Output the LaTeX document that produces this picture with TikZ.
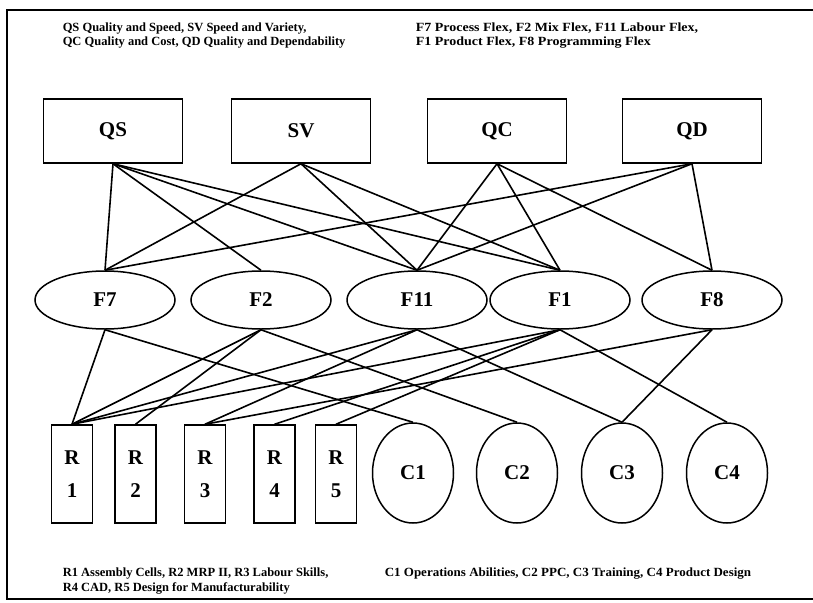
\documentclass[tikz,border=0pt]{standalone}
\usepackage{fontspec}
\setmainfont{Liberation Serif}
\usetikzlibrary{shapes.geometric}
\begin{document}
\begin{tikzpicture}[x=1pt,y=-1pt,
  line width=1.5pt,
  goal/.style={draw, rectangle, minimum width=139pt, minimum height=64pt,
    inner sep=0pt, font=\fontsize{21}{21}\selectfont\bfseries},
  flex/.style={draw, ellipse, minimum width=140pt, minimum height=58pt,
    inner sep=0pt, font=\fontsize{21}{21}\selectfont\bfseries},
  res/.style={draw, rectangle, minimum width=41pt, minimum height=98pt,
    inner sep=0pt, align=center, font=\fontsize{21}{33}\selectfont\bfseries},
  capab/.style={draw, ellipse, minimum width=81pt, minimum height=100pt,
    inner sep=0pt, font=\fontsize{21}{21}\selectfont\bfseries},
  note/.style={anchor=north west, align=left, inner sep=0pt,
    font=\fontsize{12.5}{14.5}\selectfont\bfseries},
  link/.style={line width=1.6pt}
]
\useasboundingbox (0,0) rectangle (813,602);

% outer frame (open on the right)
\draw[line width=1.8pt] (813,10) -- (7,10) -- (7,599) -- (813,599);

% legends
\node[note] (legTL) at (62,22) {QS Quality and Speed, SV Speed and Variety,\\QC Quality and Cost, QD Quality and Dependability};
\node[note, font=\fontsize{12.5}{14.5}\selectfont\bfseries\addfontfeature{FakeStretch=1.12}] (legTR) at (415,22) {F7 Process Flex, F2 Mix Flex, F11 Labour Flex,\\F1 Product Flex, F8 Programming Flex};
\node[note, font=\fontsize{12.5}{15}\selectfont\bfseries] (legBL) at (62,567) {R1 Assembly Cells, R2 MRP II, R3 Labour Skills,\\R4 CAD, R5 Design for Manufacturability};
\node[note, font=\fontsize{12.5}{15}\selectfont\bfseries\addfontfeature{FakeStretch=1.04}] (legBR) at (384,567) {C1 Operations Abilities, C2 PPC, C3 Training, C4 Product Design};

% competitive priorities
\node[goal] (QS) at (113,131) {QS};
\node[goal] (SV) at (301,131) {SV};
\node[goal] (QC) at (497,131) {QC};
\node[goal] (QD) at (692,131) {QD};

% flexibility types
\node[flex] (F7)  at (105,300) {F7};
\node[flex] (F2)  at (261,300) {F2};
\node[flex] (F11) at (417,300) {F11};
\node[flex] (F1)  at (560,300) {F1};
\node[flex] (F8)  at (712,300) {F8};

% resources
\node[res] (R1) at (72,474) {R\\1};
\node[res] (R2) at (135.5,474) {R\\2};
\node[res] (R3) at (205,474) {R\\3};
\node[res] (R4) at (274.5,474) {R\\4};
\node[res] (R5) at (336,474) {R\\5};

% capabilities
\node[capab] (C1) at (413,473) {C1};
\node[capab] (C2) at (517,473) {C2};
\node[capab] (C3) at (622,473) {C3};
\node[capab] (C4) at (727,473) {C4};

% priorities to flexibilities
\foreach \a/\b in {QS/F7, QS/F2, QS/F11, QS/F1,
                   SV/F7, SV/F11, SV/F1,
                   QC/F11, QC/F1, QC/F8,
                   QD/F7, QD/F11, QD/F8}
  \draw[link] (\a.south) -- (\b.north);

% flexibilities to resources and capabilities
\foreach \a/\b in {F7/R1, F7/C1,
                   F2/R1, F2/R2, F2/C2,
                   F11/R1, F11/R3, F11/C3,
                   F1/R1, F1/R4, F1/R5, F1/C4,
                   F8/R3, F8/C3}
  \draw[link] (\a.south) -- (\b.north);
\end{tikzpicture}
\end{document}
